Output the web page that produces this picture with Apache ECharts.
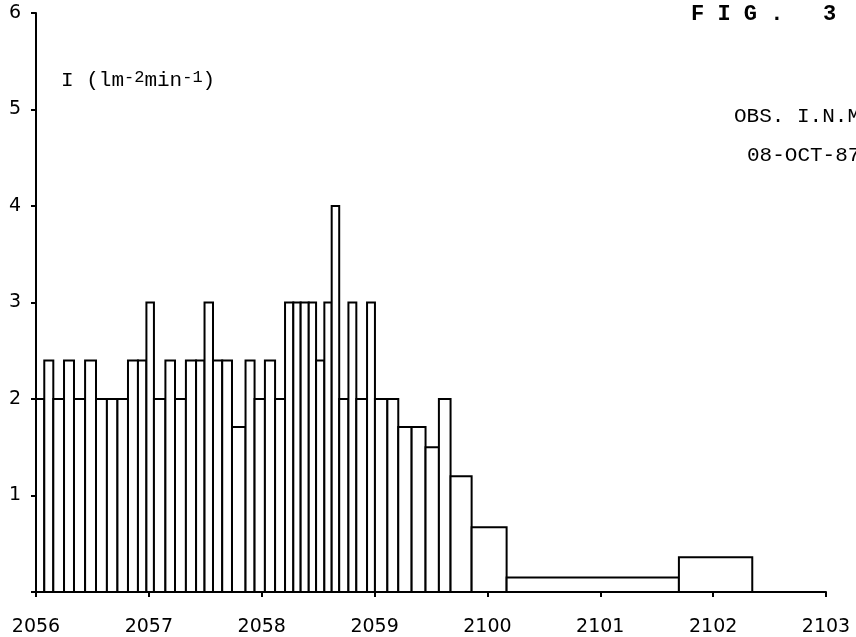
<!DOCTYPE html>
<html>
<head>
<meta charset="utf-8">
<script src="https://cdn.jsdelivr.net/npm/echarts@6/dist/echarts.min.js"></script>
<style>html,body{margin:0;padding:0;background:#fff;}#c{width:856px;height:637px;}</style>
</head>
<body>
<div id="c"></div>
<script>
// Time tick labels (hhmm), one per minute starting 20:56
const tickLabels = ['2056','2057','2058','2059','2100','2101','2102','2103'];
// Bin edges in seconds after 20:56:00
const binEdges = [0, 4.4, 9.2, 14.9, 20.2, 26.1, 31.9, 37.7, 43.3, 48.9, 54.2, 58.7, 62.7, 68.8, 73.9, 79.7, 85.1, 89.6, 94.1, 99.0, 104.2, 111.4, 116.2, 121.7, 127.1, 132.4, 136.8, 140.7, 145.0, 148.9, 153.3, 157.2, 161.2, 166.1, 170.3, 176.0, 180.2, 186.8, 192.6, 199.7, 207.1, 214.2, 220.4, 231.6, 250.2, 341.8, 380.8];
// Intensity I (lm^-2 min^-1) for each bin
const intensity = [2, 2.4, 2, 2.4, 2, 2.4, 2, 2, 2, 2.4, 2.4, 3, 2, 2.4, 2, 2.4, 2.4, 3, 2.4, 2.4, 1.71, 2.4, 2, 2.4, 2, 3, 3, 3, 3, 2.4, 3, 4, 2, 3, 2, 3, 2, 2, 1.71, 1.71, 1.5, 2, 1.2, 0.67, 0.15, 0.36];

const bins = intensity.map((v, i) => [binEdges[i], binEdges[i + 1], v]);

const chart = echarts.init(document.getElementById('c'), null, {renderer: 'canvas'});
const axisFont = {color: '#000', fontFamily: 'DejaVu Sans', fontSize: 19};
chart.setOption({
  animation: false,
  backgroundColor: '#fff',
  grid: {left: 36, right: 30, top: 13, bottom: 44},
  xAxis: {
    type: 'value', min: 0, max: 420, interval: 60,
    axisLine: {show: true, lineStyle: {color: '#000', width: 2}},
    axisTick: {show: true, inside: false, length: 5, lineStyle: {color: '#000', width: 2}},
    splitLine: {show: false},
    axisLabel: Object.assign({margin: 26, formatter: v => tickLabels[Math.round(v / 60)] || ''}, axisFont)
  },
  yAxis: {
    type: 'value', min: 0, max: 6, interval: 1,
    axisLine: {show: true, lineStyle: {color: '#000', width: 2}},
    axisTick: {show: true, inside: false, length: 5, lineStyle: {color: '#000', width: 2}},
    splitLine: {show: false},
    axisLabel: Object.assign({margin: 15, formatter: v => v === 0 ? '' : String(v)}, axisFont)
  },
  series: [{
    type: 'custom',
    data: bins,
    encode: {x: [0, 1], y: 2},
    renderItem: function (params, api) {
      const p0 = api.coord([api.value(0), api.value(2)]);
      const p1 = api.coord([api.value(1), 0]);
      return {
        type: 'rect',
        shape: {x: p0[0], y: p0[1], width: p1[0] - p0[0], height: p1[1] - p0[1]},
        style: {fill: '#fff', stroke: '#000', lineWidth: 2}
      };
    }
  }],
  graphic: [
    {type: 'text', left: 61, top: 69, style: {
      text: '{n|I (lm}{s|-2}{n|min}{s|-1}{n|)}',
      rich: {
        n: {fontFamily: 'Liberation Mono', fontSize: 21, fill: '#000'},
        s: {fontFamily: 'Liberation Mono', fontSize: 17, fill: '#000', verticalAlign: 'top', padding: [0, 0, 6, 0]}
      }
    }},
    {type: 'text', left: 691, top: 3, style: {text: 'F I G .   3', fontFamily: 'Liberation Mono', fontWeight: 'bold', fontSize: 22, fill: '#000'}},
    {type: 'text', left: 734, top: 106, style: {text: 'OBS. I.N.M.', fontFamily: 'Liberation Mono', fontSize: 21, fill: '#000'}},
    {type: 'text', left: 747, top: 145, style: {text: '08-OCT-87', fontFamily: 'Liberation Mono', fontSize: 21, fill: '#000'}}
  ]
});
</script>
</body>
</html>
